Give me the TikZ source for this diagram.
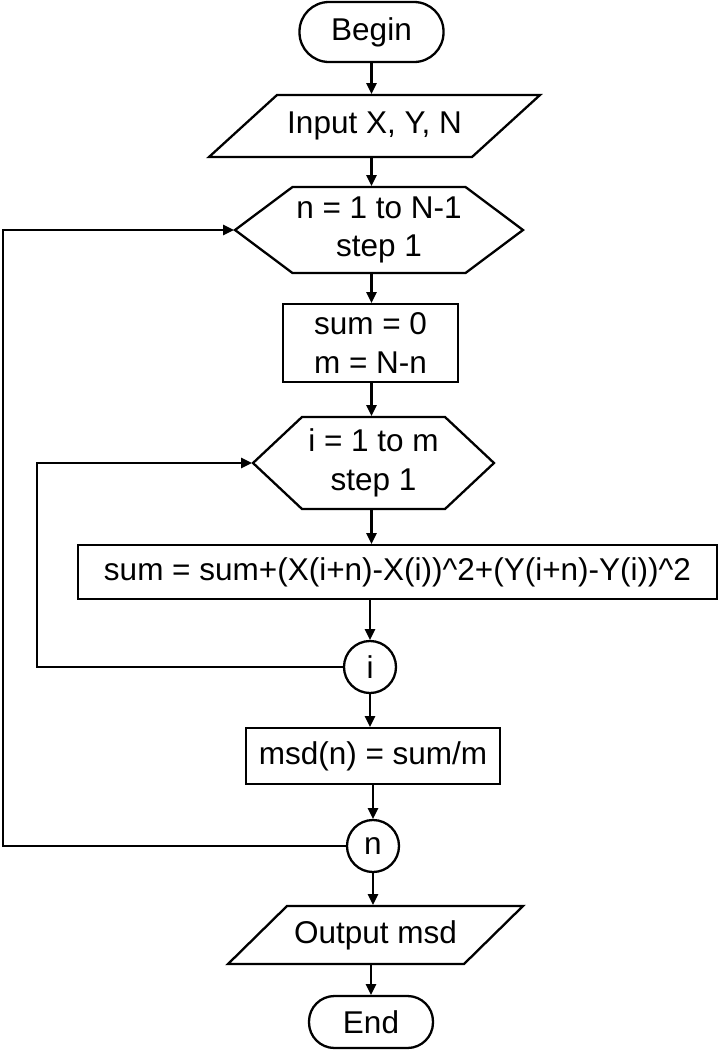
\documentclass[tikz,border=0pt]{standalone}
\usepackage{fontspec}
\setmainfont{Liberation Sans}
\usetikzlibrary{arrows.meta,calc}
\begin{document}
\begin{tikzpicture}[x=1pt,y=-1pt,
  font=\fontsize{31.5}{38.5}\selectfont,
  lw/.style={line width=2.3pt},
  base/.style={inner sep=0pt, outer sep=0pt, align=center},
  term/.style={base, draw, lw, rounded corners=#1},
  procbox/.style={base, draw, lw},
  plain/.style={base},
  conn/.style={base, draw, lw, circle, minimum size=52pt},
  arr/.style={line width=2.5pt, -{Triangle[length=11pt,width=10pt]}, shorten >=1pt},
  lineonly/.style={line width=2.5pt}
]
\useasboundingbox (0,0) rectangle (719,1050);

% nodes
\node[term=29.5pt, minimum width=144pt, minimum height=60pt] (begin) at (371.5,32) {Begin};
\node[plain, minimum width=331pt, minimum height=62pt] (in) at (374.5,126) {Input X, Y, N};
\node[plain, minimum width=288pt, minimum height=86pt] (h1) at (379,230) {n = 1 to N-1\\step 1};
\node[procbox, minimum width=175pt, minimum height=78pt] (b1) at (370.5,343) {sum = 0\\m = N-n};
\node[plain, minimum width=241pt, minimum height=92pt] (h2) at (373.5,463) {i = 1 to m\\step 1};
\node[procbox, minimum width=639pt, minimum height=54pt] (b2) at (397.5,572) {sum = sum+(X(i+n)-X(i))\^{}2+(Y(i+n)-Y(i))\^{}2};
\node[conn] (ci) at (370,667) {i};
\node[procbox, minimum width=254pt, minimum height=56pt] (msd) at (373,756) {msd(n) = sum/m};
\node[conn] (cn) at (373,846) {n};
\node[plain, minimum width=295pt, minimum height=58pt] (out) at (375.5,935) {Output msd};
\node[term=25.5pt, minimum width=124pt, minimum height=52pt] (end) at (371,1022) {End};

% outlines of parallelograms and hexagons
\draw[lw, line join=miter] ([xshift=68pt]in.north west) -- (in.north east) -- ([xshift=-68pt]in.south east) -- (in.south west) -- cycle;
\draw[lw, line join=miter] ([xshift=59pt]out.north west) -- (out.north east) -- ([xshift=-59pt]out.south east) -- (out.south west) -- cycle;
\draw[lw, line join=miter] ([xshift=57.5pt]h1.north west) -- ([xshift=-57.5pt]h1.north east) -- (h1.east) -- ([xshift=-57.5pt]h1.south east) -- ([xshift=57.5pt]h1.south west) -- (h1.west) -- cycle;
\draw[lw, line join=miter] ([xshift=49pt]h2.north west) -- ([xshift=-49pt]h2.north east) -- (h2.east) -- ([xshift=-49pt]h2.south east) -- ([xshift=49pt]h2.south west) -- (h2.west) -- cycle;

% loop corner coordinates
\coordinate (L1) at (3,0);
\coordinate (L2) at (37,0);

% vertical connectors
\draw[arr] (begin.south) -- (in.north -| begin);
\draw[arr] (in.south -| begin) -- (h1.north -| begin);
\draw[arr] (h1.south -| begin) -- (b1.north -| begin);
\draw[arr] (b1.south -| begin) -- (h2.north -| begin);
\draw[arr] (h2.south -| begin) -- (b2.north -| begin);
\draw[arr] (b2.south -| ci) -- (ci.north);
\draw[arr] (ci.south) -- (msd.north -| ci);
\draw[arr] (msd.south -| cn) -- (cn.north);
\draw[arr] (cn.south) -- (out.north -| cn);
\draw[arr] (out.south -| end) -- (end.north);

% loop connectors
\draw[arr, line join=miter] (ci.west) -- (ci.west -| L2) |- (h2.west);
\draw[arr, line join=miter] (cn.west) -- (cn.west -| L1) |- (h1.west);
\end{tikzpicture}
\end{document}
